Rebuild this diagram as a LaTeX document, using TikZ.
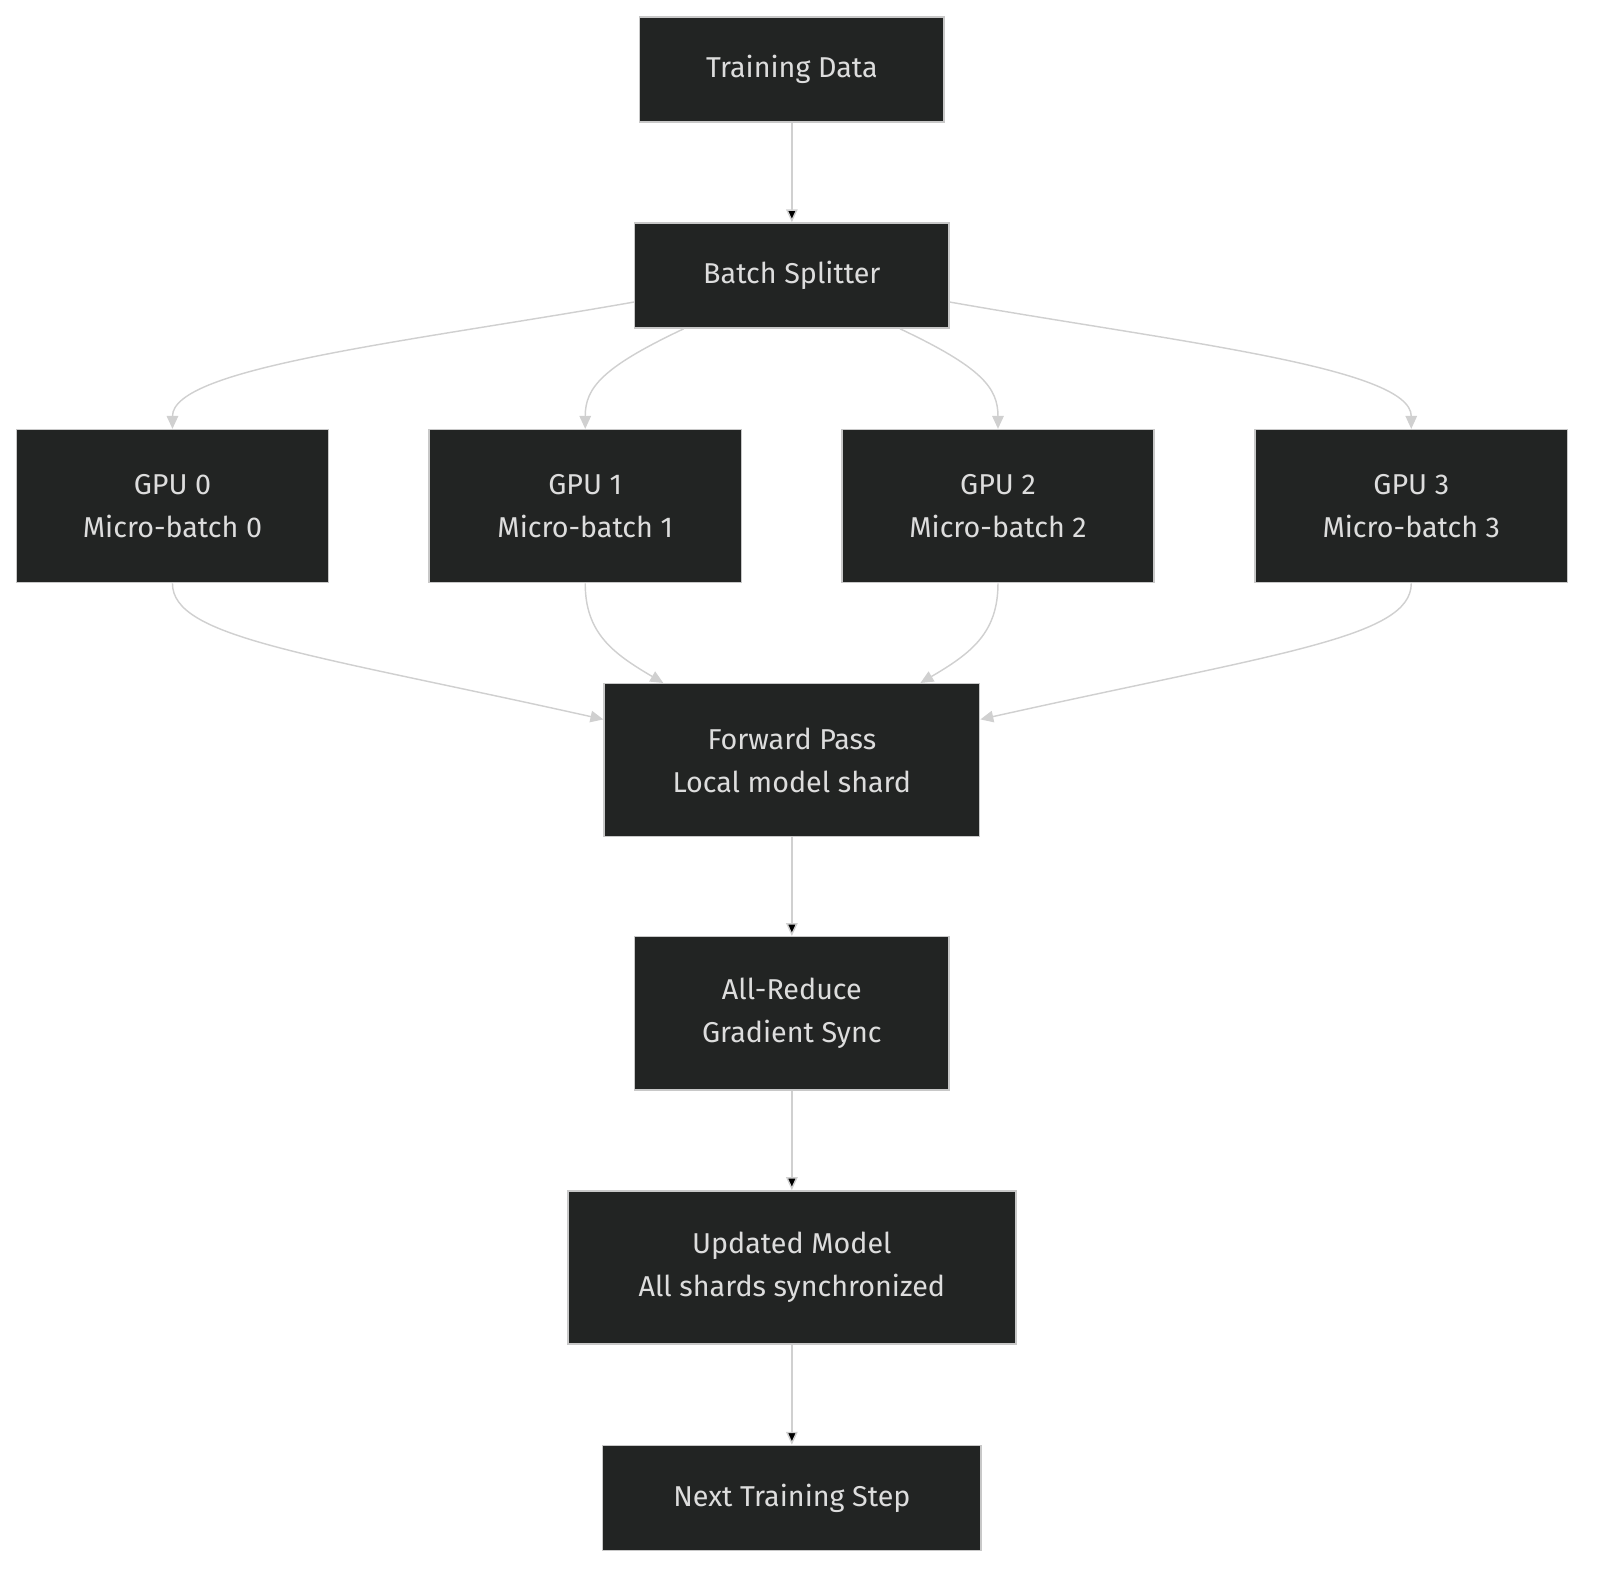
\documentclass[tikz,border=0pt]{standalone}
\usepackage{fontspec}
\setmainfont{Fira Sans}
\usetikzlibrary{arrows.meta}
\definecolor{boxfill}{HTML}{222423}
\definecolor{boxline}{HTML}{C8C8C8}
\definecolor{boxtext}{HTML}{DDDDDD}
\definecolor{linkcol}{HTML}{D0D0D0}
\begin{document}
\begin{tikzpicture}[x=0.025cm, y=-0.025cm]

\tikzstyle{stage}=[rectangle, draw=boxline, fill=boxfill, text=boxtext, line width=1pt, align=center, font=\fontsize{20}{30}\selectfont, inner sep=0pt]
\tikzstyle{short}=[stage, minimum height=2.575cm]
\tikzstyle{tall}=[stage, minimum height=3.75cm]
\tikzstyle{connect}=[-{Triangle[length=9pt, width=8pt]}, draw=linkcol, line width=1pt]

\useasboundingbox (0,0) rectangle (1566,1549);

\node[short, minimum width=7.45cm] (data) at (776,68) {Training Data};
\node[short, minimum width=7.7cm] (split) at (776,270) {Batch Splitter};

\node[tall, minimum width=7.65cm] (gpu0) at (169,496) {GPU 0\\Micro-batch 0};
\node[tall, minimum width=7.65cm] (gpu1) at (573.5,496) {GPU 1\\Micro-batch 1};
\node[tall, minimum width=7.65cm] (gpu2) at (978,496) {GPU 2\\Micro-batch 2};
\node[tall, minimum width=7.65cm] (gpu3) at (1383,496) {GPU 3\\Micro-batch 3};

\node[tall, minimum width=9.2cm] (fwd) at (776,745) {Forward Pass\\Local model shard};
\node[tall, minimum width=7.7cm] (reduce) at (776,993) {All-Reduce\\Gradient Sync};
\node[tall, minimum width=10.975cm] (update) at (776,1242) {Updated Model\\All shards synchronized};
\node[short, minimum width=9.275cm] (next) at (776,1468) {Next Training Step};

\path (data) [connect] edge (split);

\draw[connect] (split.west |- 0,296) .. controls (400,335) and (169,360) .. (gpu0.north);
\draw[connect] (split.south west -| 670,0) .. controls (590,360) and (573.5,380) .. (gpu1.north);
\draw[connect] (split.south west -| 882,0) .. controls (962,360) and (978,380) .. (gpu2.north);
\draw[connect] (split.east |- 0,296) .. controls (1152,335) and (1383,360) .. (gpu3.north);

\draw[connect] (gpu0.south) .. controls (169,625) and (300,640) .. (fwd.west |- 0,705);
\draw[connect] (gpu1.south) .. controls (573.5,620) and (600,640) .. (fwd.north west -| 650,0);
\draw[connect] (gpu2.south) .. controls (978,620) and (952,640) .. (fwd.north west -| 902,0);
\draw[connect] (gpu3.south) .. controls (1383,625) and (1252,640) .. (fwd.east |- 0,705);

\path (fwd) [connect] edge (reduce);
\path (reduce) [connect] edge (update);
\path (update) [connect] edge (next);

\end{tikzpicture}
\end{document}
